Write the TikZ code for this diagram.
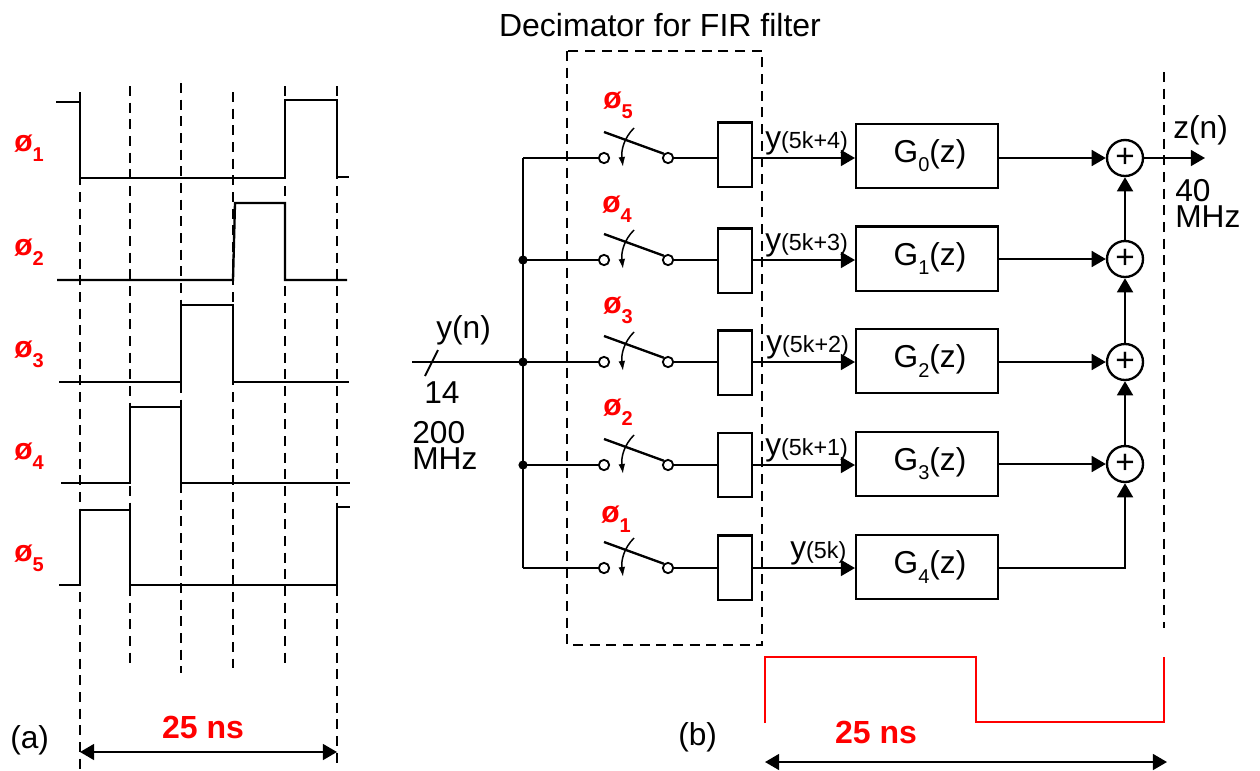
\documentclass[tikz,border=0pt]{standalone}
\usepackage{fontspec}
\setmainfont{Liberation Sans}
\usetikzlibrary{arrows.meta}
\newcommand{\lowsub}[1]{\raisebox{-0.55ex}{\fontsize{12}{13}\selectfont #1}}
\newcommand{\redsub}[1]{\raisebox{-0.65ex}{\fontsize{12}{13}\selectfont\bfseries #1}}
\newcommand{\phiname}[1]{ø\redsub{#1}}
\newcommand{\smtxt}[1]{{\fontsize{14}{16}\selectfont #1}}
\tikzset{
  x=0.6pt,y=-0.6pt,
  wire/.style={line width=1.4pt,black},
  wave/.style={line width=1.4pt,black,line join=miter},
  dashln/.style={line width=1.1pt,black,dash pattern=on 6pt off 4pt},
  redln/.style={line width=1.2pt,red},
  tip/.style={-{Triangle[length=8.5pt,width=9.5pt]}},
  dbl/.style={{Triangle[length=8.5pt,width=9.5pt]}-{Triangle[length=8.5pt,width=9.5pt]},line width=1.4pt},
  lbl/.style={inner sep=0pt,font=\fontsize{19}{15.6}\selectfont,align=left},
  phil/.style={inner sep=0pt,text=red,font=\fontsize{18}{18}\selectfont\bfseries},
  timel/.style={inner sep=0pt,text=red,font=\fontsize{19.2}{20}\selectfont\bfseries},
  latch/.style={draw,line width=1.4pt,fill=white,minimum width=20.4pt,minimum height=38.6pt,inner sep=0pt},
  filt/.style={draw,line width=1.4pt,fill=white,minimum width=85pt,minimum height=38.6pt,inner sep=0pt,font=\fontsize{19}{20}\selectfont},
  summer/.style={circle,draw,line width=1.4pt,fill=white,minimum size=21.6pt,inner sep=0pt,font=\fontsize{20}{20}\selectfont},
  pin/.style={circle,draw,line width=1.1pt,fill=white,minimum size=6.2pt,inner sep=0pt},
  dot/.style={circle,fill=black,minimum size=5.5pt,inner sep=0pt},
}
\begin{document}
\begin{tikzpicture}
\useasboundingbox (0,0) rectangle (1260,770);
% (a) timing
\draw[dashln] (80,92) -- (80,770);
\draw[dashln] (130,86) -- (130,664);
\draw[dashln] (181,83) -- (181,673);
\draw[dashln] (233,92) -- (233,668);
\draw[dashln] (285,86) -- (285,664);
\draw[dashln] (337,86) -- (337,765);
\draw[wave] (56,102) -- (80,102) -- (80,178) -- (285,178) -- (285,100) -- (337,100) -- (337,177) -- (349,177);
\draw[wave] (57,280) -- (233,280) -- (235,203) -- (285,203) -- (285,280) -- (347,280);
\draw[wave] (59,382) -- (181,382) -- (181,305) -- (233,305) -- (233,382) -- (349,382);
\draw[wave] (61,483) -- (130,483) -- (130,407) -- (181,407) -- (181,483) -- (350,483);
\draw[wave] (59,585) -- (80,585) -- (80,510) -- (130,510) -- (130,585) -- (337,585) -- (337,507) -- (350,507);
\node[phil,anchor=west] (pa1) at (14,148) {\phiname{1}};
\node[phil,anchor=west] (pa2) at (14,252) {\phiname{2}};
\node[phil,anchor=west] (pa3) at (14,354) {\phiname{3}};
\node[phil,anchor=west] (pa4) at (14,456) {\phiname{4}};
\node[phil,anchor=west] (pa5) at (14,558) {\phiname{5}};
\node[lbl,anchor=west] (la) at (10,740) {(a)};
\node[timel] (ta) at (203,727) {25 ns};
\coordinate (aL) at (80,752);
\coordinate (aR) at (337,752);
\draw[dbl] (aL) -- (aR);
% (b) decimator
\node[lbl,font=\fontsize{19.2}{20}\selectfont] (title) at (660,25) {Decimator for FIR filter};
\draw[dashln] (567,51) rectangle (762,645);
\draw[dashln] (1164,72) -- (1164,628);
\coordinate (in) at (412,362);
\coordinate (j1) at (523,158);
\coordinate (j2) at (523,260);
\coordinate (j3) at (523,362);
\coordinate (j4) at (523,465);
\coordinate (j5) at (523,568);
\draw[wire] (j1) -- (j5);
\draw[wire] (in) -- (j3);
\coordinate (s1) at (438,350);
\coordinate (s2) at (425,376);
\draw[line width=1.1pt] (s1) -- (s2);
\node[dot] (d2) at (j2) {};
\node[dot] (d3) at (j3) {};
\node[dot] (d4) at (j4) {};
\foreach \i/\yy/\bc/\fy/\L/\gs/\px/\py/\ptxt/\ybase/\ylab/\ylx in {
  1/158/154.5/156/4/0/603/105/5/148/(5k+4)/765,
  2/260/260.5/258.5/3/1/602/209/4/250/(5k+3)/765,
  3/362/362.5/361/2/2/603/310/3/352/(5k+2)/766,
  4/465/465/464/1/3/603/412/2/455/(5k+1)/765,
  5/568/567.5/567/0/4/601/519/1/558/(5k)/790}{
  \coordinate (w\i) at (523,\yy);
  \node[pin] (pl\i) at (604,\yy) {};
  \node[pin] (pr\i) at (668,\yy) {};
  \draw[wire] (w\i) -- (pl\i);
  \coordinate (bt\i) at (604,\yy-26);
  \draw[line width=1.4pt] (bt\i) -- (pr\i.north west);
  \coordinate (ca\i) at (634,\yy-30);
  \coordinate (cb\i) at (623,\yy+9);
  \draw[line width=0.9pt,-{Latex[length=6pt,width=4pt]}] (ca\i) .. controls (624,\yy-20) and (621,\yy-8) .. (cb\i);
  \node[latch] (lt\i) at (735,\bc) {};
  \node[filt] (g\i) at (927,\fy) {\hspace{3.6pt}G\lowsub{\gs}(z)};
  \draw[wire] (pr\i) -- (lt\i.west |- pr\i);
  \draw[wire,tip] (lt\i.east |- pr\i) -- (g\i.west |- pr\i);
  \node[phil,anchor=west] (pb\i) at (\px,\py) {\phiname{\ptxt}};
  \node[lbl,anchor=base west] (yl\i) at (\ylx,\ybase) {y\smtxt{\ylab}};
}
\node[summer] (sum1) at (1125,158) {+};
\node[summer] (sum2) at (1125,259) {+};
\node[summer] (sum3) at (1125,362) {+};
\node[summer] (sum4) at (1125,464) {+};
\draw[wire,tip] (g1.east |- sum1) -- (sum1);
\draw[wire,tip] (g2.east |- sum2) -- (sum2);
\draw[wire,tip] (g3.east |- sum3) -- (sum3);
\draw[wire,tip] (g4.east |- sum4) -- (sum4);
\draw[wire,tip] (sum2) -- (sum1);
\draw[wire,tip] (sum3) -- (sum2);
\draw[wire,tip] (sum4) -- (sum3);
\draw[wire,tip] (g5.east |- j5) -| (sum4);
\coordinate (out) at (1205,158);
\draw[wire,tip] (sum1) -- (out);
\node[lbl,anchor=base west] (zn) at (1173,138) {z(n)};
\node[lbl,anchor=west] (rate1) at (1175,203) {40\\MHz};
\node[lbl,anchor=base west] (yn) at (436,338) {y(n)};
\node[lbl,anchor=base west] (wd) at (424,403) {14};
\node[lbl,anchor=west] (rate2) at (412,445) {200\\MHz};
\node[lbl,anchor=west] (lb) at (678,737) {(b)};
\node[timel] (tb) at (876,732) {25 ns};
\coordinate (r1) at (765,723);
\coordinate (r2) at (765,657);
\coordinate (r3) at (976,657);
\coordinate (r4) at (976,722);
\coordinate (r5) at (1164,722);
\coordinate (r6) at (1164,657);
\draw[redln] (r1) -- (r2) -- (r3) -- (r4) -- (r5) -- (r6);
\coordinate (bL) at (765,762);
\coordinate (bR) at (1167,762);
\draw[dbl] (bL) -- (bR);
\end{tikzpicture}
\end{document}
